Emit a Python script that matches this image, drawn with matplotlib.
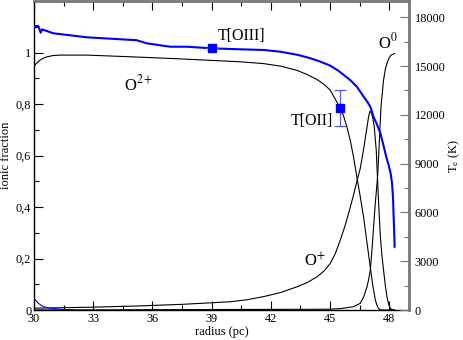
import numpy as np
import matplotlib
matplotlib.use("Agg")
import matplotlib.pyplot as plt
from matplotlib.ticker import MultipleLocator, FuncFormatter

plt.rcParams['font.family'] = ['Liberation Serif', 'DejaVu Serif']
plt.rcParams['mathtext.fontset'] = 'stix'

# electron temperature (right axis)
r_te = [30.0, 30.22, 30.34, 30.41, 30.98, 32.67, 35.04, 35.2, 35.71, 36.9, 37.74,
        39.0, 40.45, 41.63, 42.5, 43.4, 44.0, 44.45, 45.0, 45.4, 45.7, 46.02, 46.36,
        46.7, 46.9, 47.04, 47.2, 47.38, 47.55, 47.7, 47.85, 47.97, 48.07, 48.14,
        48.19, 48.22, 48.25, 48.27]
te = [17460, 17460, 17050, 17260, 17015, 16770, 16600, 16590, 16400, 16190, 16190,
      16090, 16030, 15990, 15880, 15680, 15480, 15300, 15030, 14730, 14450, 14140,
      13730, 13120, 12780, 12500, 11890, 11400, 10870, 10150, 9400, 8900, 8400,
      7790, 6900, 5740, 4800, 3890]

# measured temperatures
r_obs = [39.0, 45.52]
te_obs = [16090, 12400]
te_err = [0, 1100]

# ionic fractions
r_o2 = [30.0, 30.15, 30.3, 30.45, 30.64, 30.95, 31.32, 32.67, 35.04, 37.5, 40.45,
        41.63, 42.5, 43.32, 43.85, 44.34, 44.7, 45.01, 45.27, 45.52, 45.69, 45.85,
        46.02, 46.2, 46.36, 46.53, 46.7, 46.87, 47.04, 47.17, 47.3, 47.4, 47.5,
        47.6, 48.27]
o2 = [0.947, 0.960, 0.970, 0.977, 0.983, 0.988, 0.990, 0.990, 0.983, 0.975, 0.964,
      0.957, 0.947, 0.931, 0.914, 0.895, 0.876, 0.854, 0.818, 0.785, 0.752, 0.712,
      0.660, 0.590, 0.515, 0.440, 0.360, 0.262, 0.165, 0.092, 0.037, 0.013, 0.003,
      0.0, 0.0]

r_o1 = [30.0, 33.0, 35.37, 37.5, 39.94, 40.8, 41.63, 42.5, 43.32, 43.85, 44.34,
        44.7, 45.01, 45.27, 45.52, 45.77, 46.02, 46.2, 46.36, 46.53, 46.7, 46.87,
        46.95, 47.02, 47.1, 47.17, 47.24, 47.34, 47.41, 47.46, 47.55, 47.63, 47.71,
        47.8, 47.88, 47.97, 48.05, 48.15, 48.27]
o1 = [0.007, 0.011, 0.016, 0.022, 0.032, 0.040, 0.052, 0.068, 0.090, 0.107, 0.129,
      0.152, 0.181, 0.220, 0.272, 0.330, 0.398, 0.450, 0.500, 0.550, 0.625, 0.710,
      0.750, 0.772, 0.765, 0.745, 0.710, 0.620, 0.500, 0.414, 0.284, 0.210, 0.155,
      0.095, 0.052, 0.022, 0.007, 0.001, 0.0]

r_o0 = [30.0, 45.0, 45.6, 46.19, 46.53, 46.7, 46.87, 46.96, 47.04, 47.1, 47.17,
        47.23, 47.29, 47.35, 47.41, 47.5, 47.58, 47.71, 47.8, 47.88, 47.98, 48.09,
        48.27]
o0 = [0.0, 0.003, 0.006, 0.013, 0.026, 0.050, 0.090, 0.120, 0.155, 0.210, 0.284,
      0.350, 0.414, 0.465, 0.520, 0.660, 0.789, 0.893, 0.935, 0.957, 0.977, 0.990,
      0.996]

r_o3 = [30.0, 30.22, 30.47, 30.81, 31.32, 32.0]
o3 = [0.045, 0.026, 0.013, 0.007, 0.003, 0.0]

fig = plt.figure(figsize=(4.63, 3.40), dpi=100)
ax = fig.add_axes([0.0734, 0.0882, 0.81, 0.9088])

ax.plot(r_o2, o2, color='black', lw=0.8)
ax.plot(r_o1, o1, color='black', lw=0.8)
ax.plot(r_o0, o0, color='black', lw=0.8)
ax.plot(r_o3, o3, color='blue', lw=0.8)

ax.set_xlim(30, 49)
ax.set_ylim(0, 1.2)
ax.xaxis.set_major_locator(MultipleLocator(3))
ax.xaxis.set_minor_locator(MultipleLocator(1.5))
ax.yaxis.set_major_locator(MultipleLocator(0.2))
ax.yaxis.set_minor_locator(MultipleLocator(0.1))

def comma(v, pos):
    if v > 1.1:
        return ''
    if abs(v - round(v)) < 1e-9:
        return '%d' % round(v)
    return ('%.1f' % v).replace('.', ',')

ax.yaxis.set_major_formatter(FuncFormatter(comma))
ax.tick_params(which='both', direction='in', top=True, right=False, labelsize=8.8, pad=2)
ax.tick_params(which='major', length=6.5, width=0.8)
ax.tick_params(which='minor', length=3.5, width=0.8)
ax.set_xlabel('radius (pc)', fontsize=9, labelpad=1)
ax.set_ylabel('ionic fraction', fontsize=9, labelpad=3)
ax.spines['left'].set_linewidth(1.0)
ax.spines['bottom'].set_linewidth(1.0)
ax.spines['top'].set_color('#777777')
ax.spines['top'].set_linewidth(2.0)
ax.spines['right'].set_visible(False)

ax2 = ax.twinx()
ax2.plot(r_te, te, color='#0000ff', lw=1.5)
ax2.errorbar(r_obs, te_obs, yerr=te_err, fmt='s', color='#0000ff', ms=6.3,
             ecolor='#5a5aff', elinewidth=0.9, capsize=4, capthick=0.9)
ax2.set_ylim(0, 19000)
ax2.yaxis.set_major_locator(MultipleLocator(3000))
ax2.yaxis.set_minor_locator(MultipleLocator(1500))
ax2.tick_params(which='both', direction='in', labelsize=8.8, pad=4, color='#777777')
ax2.tick_params(which='major', length=6.5, width=0.8)
ax2.tick_params(which='minor', length=3.5, width=0.8)
ax2.set_ylabel(r'T$_{\mathrm{e}}$ (K)', fontsize=9, labelpad=1)
for s in ['left', 'top', 'bottom']:
    ax2.spines[s].set_visible(False)
ax2.spines['right'].set_color('#777777')
ax2.spines['right'].set_linewidth(2.0)

ax.text(34.56, 0.854, r'O$^{2+}$', fontsize=12)
ax.text(39.33, 1.050, 'T[OIII]', fontsize=11.5)
ax.text(42.98, 0.718, 'T[OII]', fontsize=11.5)
ax.text(43.69, 0.168, r'O$^{+}$', fontsize=12)
ax.text(47.43, 1.016, r'O$^{0}$', fontsize=12)

fig.savefig('out.png', dpi=100)
